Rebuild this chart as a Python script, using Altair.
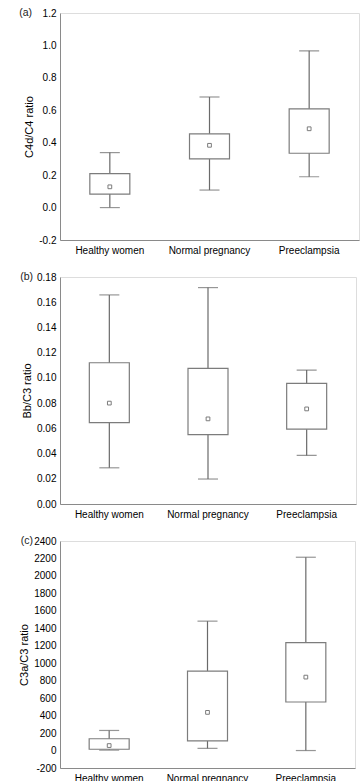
import altair as alt
import pandas as pd

groups = ["Healthy women", "Normal pregnancy", "Preeclampsia"]

# Panel (a) C4d/C4 ratio
a_lo = [0.0, 0.108, 0.19]
a_q1 = [0.083, 0.300, 0.335]
a_mean = [0.128, 0.384, 0.486]
a_q3 = [0.209, 0.455, 0.609]
a_hi = [0.339, 0.682, 0.967]
a_ticks = [-0.2, 0.0, 0.2, 0.4, 0.6, 0.8, 1.0, 1.2]

# Panel (b) Bb/C3 ratio
b_lo = [0.0287, 0.0198, 0.0385]
b_q1 = [0.0645, 0.055, 0.0593]
b_mean = [0.080, 0.0675, 0.0754]
b_q3 = [0.112, 0.1076, 0.0957]
b_hi = [0.1658, 0.1716, 0.1062]
b_ticks = [0.0, 0.02, 0.04, 0.06, 0.08, 0.10, 0.12, 0.14, 0.16, 0.18]

# Panel (c) C3a/C3 ratio
c_lo = [5, 25, 0]
c_q1 = [15, 110, 556]
c_mean = [57, 437, 841]
c_q3 = [135, 910, 1237]
c_hi = [230, 1482, 2214]
c_ticks = [-200, 0, 200, 400, 600, 800, 1000, 1200, 1400, 1600, 1800, 2000, 2200, 2400]

FONT = "Liberation Sans"
AX = "#8a8a8a"
BOX = "#7c7c7c"
WH = "#6a6a6a"
TXT = "#222222"


def panel(letter, title, lo, q1, mean, q3, hi, ticks, fmt, width, label_dx):
    df = pd.DataFrame({"group": groups, "lo": lo, "q1": q1, "mean": mean, "q3": q3, "hi": hi})
    dom = [ticks[0], ticks[-1]]
    x = alt.X("group:N", sort=groups, title=None,
              scale=alt.Scale(paddingInner=0, paddingOuter=0),
              axis=alt.Axis(labelAngle=0, ticks=False, labelPadding=5, domainColor=AX,
                            labelOverlap=False))
    yscale = alt.Scale(domain=dom, nice=False, zero=False)
    yaxis = alt.Axis(values=ticks, format=fmt, ticks=False, labelPadding=4, grid=False,
                     titlePadding=4, domainColor=AX, labelOverlap=False,
                     titleFontWeight="normal",
                     labelExpr="replace(datum.label, '\u2212', '-')")

    def Y(field):
        return alt.Y(field, scale=yscale, axis=yaxis, title=title)

    base = alt.Chart(df)
    whisk = base.mark_rule(color=WH, strokeWidth=1.2).encode(x=x, y=Y("lo:Q"), y2="hi:Q")
    cap_hi = base.mark_tick(color=WH, size=20, thickness=1.2).encode(x=x, y=Y("hi:Q"))
    cap_lo = base.mark_tick(color=WH, size=20, thickness=1.2).encode(x=x, y=Y("lo:Q"))
    box = base.mark_bar(size=40, fill="white", stroke=BOX, strokeWidth=1.2).encode(
        x=x, y=Y("q1:Q"), y2="q3:Q")
    mean_pt = base.mark_point(shape="square", size=14, fill="white", stroke=BOX,
                              strokeWidth=1, opacity=1).encode(x=x, y=Y("mean:Q"))
    lab = alt.Chart(pd.DataFrame({"t": [letter]})).mark_text(
        align="right", baseline="middle", font=FONT, fontSize=10.5,
        fontWeight="normal", color=TXT).encode(
        x=alt.value(label_dx), y=alt.value(0), text="t:N")
    return alt.layer(whisk, cap_hi, cap_lo, box, mean_pt, lab).properties(width=width, height=227)


pa = panel("(a)", "C4d/C4 ratio", a_lo, a_q1, a_mean, a_q3, a_hi, a_ticks, ".1f", 299, -28)
pb = panel("(b)", "Bb/C3 ratio", b_lo, b_q1, b_mean, b_q3, b_hi, b_ticks, ".2f", 296, -27)
pc = panel("(c)", "C3a/C3 ratio", c_lo, c_q1, c_mean, c_q3, c_hi, c_ticks, "d", 295, -27)

chart = alt.vconcat(pa, pb, pc, spacing=15).properties(
    padding={"left": 18, "top": 7, "right": 0, "bottom": 0}
).configure_view(stroke=AX, strokeWidth=1).configure_axis(
    labelFont=FONT, titleFont=FONT, labelFontSize=10.2, titleFontSize=10,
    titleFontWeight="normal", labelColor=TXT, titleColor=TXT, domainWidth=1
).configure_axisY(labelOverlap=False).configure(background="white")

chart.save("out.html", embed_options={"renderer": "svg", "actions": False})
